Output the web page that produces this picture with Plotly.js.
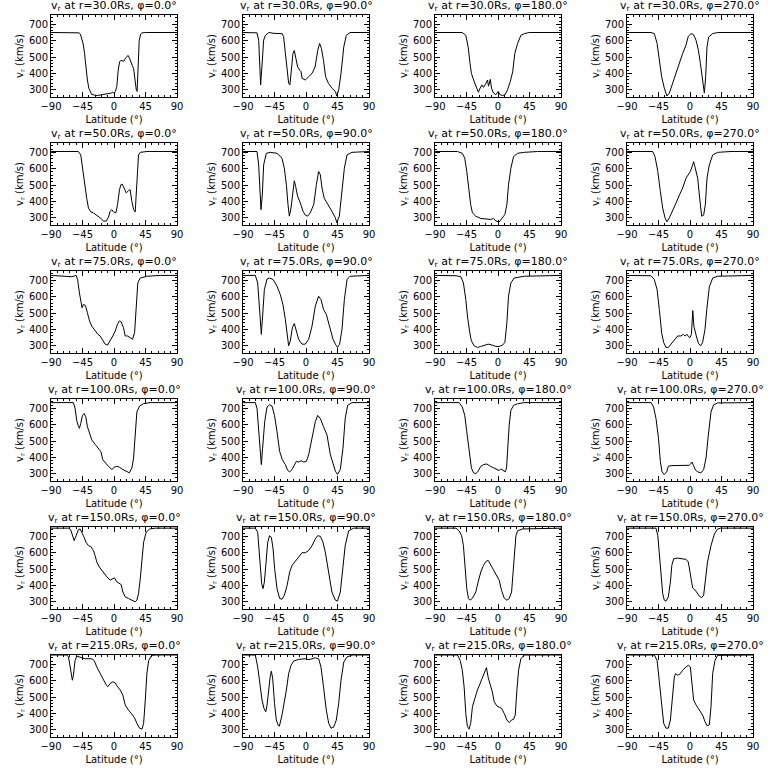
<!DOCTYPE html>
<html><head><meta charset="utf-8">
<script src="https://cdn.plot.ly/plotly-3.0.1.min.js"></script>
<style>html,body{margin:0;padding:0;background:#fff}</style>
</head><body><div id="chart" style="width:768px;height:768px"></div>
<script>
// ---- labels ----
const radii = ["30.0", "50.0", "75.0", "100.0", "150.0", "215.0"];
const phis = ["0.0", "90.0", "180.0", "270.0"];
const xTickVals = [-90, -45, 0, 45, 90];
const yTickVals = [300, 400, 500, 600, 700];

// ---- r = 30 Rs ----
const lat_r30_p0 = [-90,-60,-50,-48,-46,-44,-42,-40,-38,-36,-34,-32,-28,-24,-20,-16,-12,-8,-4,-2,0,2,4,6,8,10,12,14,16,18,20,22,24,26,28,30,32,33,34,36,38,40,45,60,90];
const v_r30_p0 = [650,650,648,640,615,580,520,430,360,310,285,272,268,265,268,270,272,275,280,285,280,290,320,420,470,480,478,475,490,500,510,495,465,450,430,350,295,290,420,600,640,648,650,650,650];
const lat_r30_p90 = [-90,-72,-70,-67.6,-66,-64.8,-63,-60.5,-58,-53,-46,-40,-34,-32,-29.5,-27,-24.8,-23,-21.4,-18.6,-16.7,-14.8,-12,-9,-7,-5.7,-1,3.8,8.6,13,16.7,19.5,22,25,28,32,37,42,44,46.7,50,54,57.6,63,90];
const v_r30_p90 = [650,650,648,603,380,330,440,603,633,650,645,645,643,625,522,420,340,330,400,522,540,500,440,420,410,370,360,380,400,440,540,583,553,480,380,340,310,290,262,300,400,563,633,650,650];
const lat_r30_p180 = [-90,-51,-46,-42.7,-40,-38,-34,-30,-28,-25.5,-23,-20.8,-18.4,-15,-13.6,-11,-9.3,-6.4,-3,0.3,3,6.5,10,13.6,17.5,21,24,28,32.7,37.5,44.7,90];
const v_r30_p180 = [650,650,633,563,462,400,350,300,285,310,330,315,330,360,322,364,310,280,270,290,270,265,270,300,350,410,522,583,633,643,650,650];
const lat_r30_p270 = [-90,-55.7,-51,-47,-43.8,-40.5,-36.7,-33,-29.5,-24.8,-20,-15,-10.5,-5.7,-2.4,1.4,5,8.6,12,14.8,16.7,18.6,20.5,22.4,24.3,26.7,32.4,39.5,90];
const v_r30_p270 = [650,650,643,583,482,380,310,262,280,340,410,472,522,573,627,643,637,603,542,462,400,330,280,380,563,623,643,650,650];

// ---- r = 50 Rs ----
const lat_r50_p0 = [-90,-51,-47.5,-44.6,-41.3,-39,-36.5,-33,-29.4,-24.6,-19.8,-15,-11,-7.9,-5.5,-3,-0.7,2.7,5,7.9,9.8,11.7,14.6,17.5,20.8,23,25.6,28,30.3,32.7,35,37.5,47,90];
const v_r50_p0 = [705,705,684,583,502,420,360,336,330,316,300,280,280,304,340,350,336,330,380,472,502,506,482,452,466,472,400,350,336,542,684,700,705,705];
const lat_r50_p90 = [-90,-70,-67.6,-65.7,-64.3,-62.4,-60.5,-56.7,-51,-41.4,-34.3,-31,-28,-25.7,-23.8,-21.4,-18.6,-16.7,-14.8,-12,-8,-4.3,-1,2.4,6,11,14.8,18,20.5,22.9,26,32,37,42,44,47.6,51,54.8,58.6,65.7,90];
const v_r50_p90 = [705,705,623,441,350,441,623,694,700,694,664,603,502,380,310,360,482,526,492,432,390,340,316,310,330,380,502,583,563,482,420,380,340,300,270,310,441,603,684,700,705];
const lat_r50_p180 = [-90,-58,-51,-47.5,-44.6,-41.3,-39,-36.5,-31.7,-24.6,-15,-10.2,-6.4,-3,1.7,6.5,9.8,12.7,15,18.4,22.2,28,37.5,56.6,90];
const v_r50_p180 = [705,705,694,664,583,462,380,330,310,296,290,290,296,280,275,300,320,380,502,603,674,694,700,705,705];
const lat_r50_p270 = [-90,-53.3,-50,-46,-42.4,-39,-35.7,-33,-29.5,-24.8,-20,-15,-10.5,-5.7,-2.4,0.5,3.8,5.2,7,11,13.8,16.7,19.5,21.9,24.3,27.6,32.4,39.5,58.6,90];
const v_r50_p270 = [705,705,674,583,462,360,300,276,300,340,390,440,482,542,563,583,623,643,613,542,420,310,316,380,542,623,684,700,705,705];

// ---- r = 75 Rs ----
const lat_r75_p0 = [-90,-70,-60,-54,-52,-49.4,-47,-45.6,-43.7,-40.8,-38,-35,-31.7,-27,-23,-19.8,-16,-12.6,-9.3,-5.5,-1.7,1.7,5,7.9,10.3,13.6,16,19.3,23,26.5,29.4,31.8,34,37.5,47,66,90];
const v_r75_p0 = [730,725,722,730,705,623,553,532,553,546,502,452,420,390,370,360,330,310,304,330,360,390,432,452,446,410,360,360,350,340,380,542,684,714,725,730,730];
const lat_r75_p90 = [-90,-72.4,-69,-67,-65,-63.8,-62,-59.5,-55.7,-52,-47,-41.4,-36.7,-33,-29.5,-27,-24.8,-22.4,-19.5,-16.7,-13.8,-10.5,-5.7,-1,3.8,8.6,13.3,18,21.4,25,29,33.8,38.6,42,45,48,51.4,54.8,58.6,63,90];
const v_r75_p90 = [730,730,684,563,420,370,482,643,708,714,705,664,613,553,462,370,300,330,410,436,390,340,310,310,340,420,542,603,583,522,492,420,340,310,290,310,400,583,705,725,730];
const lat_r75_p180 = [-90,-60,-53,-49.4,-46,-43.7,-40.3,-38,-34,-29.4,-24.6,-19.8,-14,-7.9,-3,1.7,6.5,9.8,12.7,15,18.4,23,37.5,90];
const v_r75_p180 = [730,728,722,684,583,482,380,330,300,290,296,304,310,304,296,296,304,320,441,603,684,714,725,730];
const lat_r75_p270 = [-90,-55.7,-51,-47,-43.8,-40.5,-37.6,-34.3,-31,-27,-22.4,-17.6,-13,-9.5,-7,-4.3,-2,0,2,4,5.5,7,9,12,15,18,21.4,24,27.6,32.4,39.5,90];
const v_r75_p270 = [730,728,705,643,522,380,320,290,290,310,340,360,360,370,360,370,355,350,370,515,420,385,360,316,300,320,400,522,660,714,725,730];

// ---- r = 100 Rs ----
const lat_r100_p0 = [-90,-58,-55.6,-53,-50.8,-49.4,-47.5,-45,-42.7,-40.3,-38,-35,-31.7,-27,-22,-18.8,-16,-12.6,-8,-3,0.3,4,7.9,12.7,18.4,22,25.6,28,30.3,32.7,36.5,42,51.6,90];
const v_r100_p0 = [735,735,700,620,590,578,608,657,668,648,588,548,507,480,456,436,386,366,346,326,340,346,340,326,312,306,336,396,537,678,714,728,735,735];
const lat_r100_p90 = [-90,-72.4,-70,-67.6,-65,-63.8,-62,-59,-55.7,-52,-48.6,-45,-41.4,-37.6,-33.8,-29.5,-26,-23.3,-20,-16.7,-13.8,-10.5,-7,-3.3,0.5,3.8,8.6,13.3,16.7,20.5,25,30,34.8,38.6,42,45,49,52.8,56,59.5,65.7,90];
const v_r100_p90 = [735,735,700,557,396,356,456,618,708,722,714,657,557,436,386,356,320,312,326,356,376,372,380,372,376,416,517,618,657,638,588,537,416,356,316,296,326,456,638,718,735,735];
const lat_r100_p180 = [-90,-55.6,-51,-47.5,-44.6,-41.3,-38,-35,-31.7,-28.4,-24.6,-20.8,-16,-11,-6.4,-1.7,1.7,4,7.4,10.3,12.2,13.6,16,18.4,22.2,28,37.5,90];
const v_r100_p180 = [735,735,708,657,557,436,336,306,300,316,346,356,360,346,336,326,320,330,320,312,336,436,598,688,718,728,735,735];
const lat_r100_p270 = [-90,-55.7,-52,-48.6,-45,-42.4,-40,-36.7,-33.3,-31,-27,-17.6,-5.7,-1,1,3,5,8,11,15.7,19.5,22.9,26.2,30,33.8,39.5,90];
const v_r100_p270 = [735,735,708,638,517,376,312,296,312,346,350,350,350,352,360,372,350,322,312,306,326,396,537,678,722,733,735];

// ---- r = 150 Rs ----
const lat_r150_p0 = [-90,-65,-61.8,-59,-57,-54,-51,-48.4,-46,-42.7,-40,-36.5,-33,-29.4,-27,-24.6,-20.8,-17.4,-14,-10.2,-5.5,-1.7,0.7,4,7.9,10.3,12.7,16,20.8,25.6,30.3,32.7,35,37.5,40,42.3,46,51,59,90];
const v_r150_p0 = [750,750,740,704,674,704,740,745,725,694,664,643,637,613,583,543,512,492,472,452,432,442,446,422,412,405,360,330,320,310,300,310,350,441,563,664,725,745,750,750];
const lat_r150_p90 = [-90,-72.4,-69,-67,-65,-63.3,-61.4,-59.5,-57,-54.7,-52,-49.5,-47,-44.8,-41.4,-37.6,-34.3,-31,-27,-23.3,-20,-15,-10.5,-5.7,-1,3.8,8.6,13.3,16.7,20.5,24.3,27.6,32.4,37,42,45,49,52.8,56,61,68,90];
const v_r150_p90 = [750,750,725,623,502,410,380,420,543,664,704,694,623,502,380,320,316,340,400,482,522,546,573,600,600,613,643,684,704,700,664,603,482,360,310,304,360,502,643,734,750,750];
const lat_r150_p180 = [-90,-60,-55.6,-52,-49.4,-47,-44.6,-42.2,-40,-36.5,-31.7,-28.4,-24.6,-20.8,-17.4,-14,-10.2,-6.4,-1.7,1.7,5,8.9,12.7,16,19.4,21.3,23.2,25.6,28,35,90];
const v_r150_p180 = [750,750,734,704,643,502,380,320,310,322,360,420,482,522,546,553,522,492,462,432,370,322,310,320,360,462,603,704,734,745,750];
const lat_r150_p270 = [-90,-48.6,-46,-43.8,-41.4,-39,-36.7,-34.3,-31,-28,-26,-23.3,-17.6,-10.5,-5.7,-2.4,0.5,2.4,3.8,8.6,13,16.7,19.5,21.4,25,30,34.8,39.5,44,90];
const v_r150_p270 = [750,750,704,583,441,350,310,304,330,420,522,563,567,563,559,543,482,420,385,365,336,325,340,420,543,643,714,745,750,750];

// ---- r = 215 Rs ----
const lat_r215_p0 = [-90,-67.6,-65,-62.8,-60.9,-59.5,-58,-55.6,-53,-48.4,-41.3,-31.7,-28.4,-24.6,-20.8,-17.4,-14,-11,-8.8,-5.5,-1.7,1.7,5,8.9,12.7,16,20.8,25.6,29,32.7,36.5,40,42.3,44.7,47,49.5,54,61,90];
const v_r215_p0 = [757,757,745,684,623,603,633,724,750,745,734,734,724,684,654,623,593,573,563,583,593,587,563,543,512,452,420,390,376,340,310,304,340,482,643,724,755,757,757];
const lat_r215_p90 = [-90,-72.4,-69,-66,-62.8,-60,-57.5,-55.7,-53.3,-51,-49.5,-47.5,-45,-42.4,-40,-38,-34.3,-31,-28,-24.8,-21.4,-17.6,-10.5,-1,3.8,8.6,13.3,18,21.4,25,29,32.4,35.7,39.5,43.3,46.7,50,54,58.6,65.7,90];
const v_r215_p90 = [757,757,684,583,482,430,410,450,560,630,658,610,462,360,330,322,390,462,543,643,694,720,730,734,728,734,740,734,684,563,420,340,310,316,360,462,603,714,745,757,757];
const lat_r215_p180 = [-90,-58,-54,-51,-48.4,-46,-43.7,-41.3,-39,-36.5,-33,-29.4,-24.6,-20.8,-18.4,-16.5,-14,-11,-8,-5.5,-1.7,1.7,5,8.9,12.7,16,19.4,22.2,24.6,27,29.4,32.7,37.5,90];
const v_r215_p180 = [757,757,724,664,563,400,320,304,340,441,492,543,593,630,660,680,620,580,530,472,446,438,432,400,360,344,360,364,390,543,664,734,757,757];
const lat_r215_p270 = [-90,-51,-47,-43.8,-40.5,-37.6,-34.3,-31,-28,-26,-24,-22.4,-20.5,-17.6,-13.8,-10.5,-5.7,-2.4,0.5,2.4,5.2,8.6,13.3,18,21.4,24.3,27.6,30,32.4,35.7,39.5,90];
const v_r215_p270 = [757,757,724,603,441,340,310,310,360,441,543,623,643,633,643,664,684,694,684,603,482,452,420,390,350,325,330,441,643,724,755,757];

const panelData = [
  [lat_r30_p0, v_r30_p0], [lat_r30_p90, v_r30_p90], [lat_r30_p180, v_r30_p180], [lat_r30_p270, v_r30_p270],
  [lat_r50_p0, v_r50_p0], [lat_r50_p90, v_r50_p90], [lat_r50_p180, v_r50_p180], [lat_r50_p270, v_r50_p270],
  [lat_r75_p0, v_r75_p0], [lat_r75_p90, v_r75_p90], [lat_r75_p180, v_r75_p180], [lat_r75_p270, v_r75_p270],
  [lat_r100_p0, v_r100_p0], [lat_r100_p90, v_r100_p90], [lat_r100_p180, v_r100_p180], [lat_r100_p270, v_r100_p270],
  [lat_r150_p0, v_r150_p0], [lat_r150_p90, v_r150_p90], [lat_r150_p180, v_r150_p180], [lat_r150_p270, v_r150_p270],
  [lat_r215_p0, v_r215_p0], [lat_r215_p90, v_r215_p90], [lat_r215_p180, v_r215_p180], [lat_r215_p270, v_r215_p270]
];

// ---- layout geometry (pixels) ----
const W = 768, H = 768;
const colX = [51, 243, 435, 627];
const rowY = [15, 143, 271, 399, 527, 655];
const PW = 126, PH = 82;
const FONT = 'DejaVu Sans, sans-serif';

const traces = [];
const layout = {
  width: W, height: H,
  margin: {l: 0, r: 0, t: 0, b: 0},
  paper_bgcolor: '#fff', plot_bgcolor: '#fff',
  showlegend: false,
  font: {family: FONT, size: 10, color: '#000'},
  annotations: []
};

for (let r = 0; r < 6; r++) {
  for (let c = 0; c < 4; c++) {
    const i = r * 4 + c;
    const sfx = i === 0 ? '' : String(i + 1);
    const d = panelData[i];
    traces.push({
      type: 'scatter', mode: 'lines', x: d[0], y: d[1],
      xaxis: 'x' + sfx, yaxis: 'y' + sfx,
      line: {color: '#000', width: 1}, hoverinfo: 'skip'
    });
    const common = {
      showline: true, linecolor: '#000', linewidth: 1, mirror: 'ticks',
      ticks: 'inside', ticklen: 5, tickwidth: 1, tickcolor: '#000',
      showgrid: false, zeroline: false, fixedrange: true,
      tickfont: {family: FONT, size: 10, color: '#000'}
    };
    layout['xaxis' + sfx] = Object.assign({}, common, {
      domain: [colX[c] / W, (colX[c] + PW) / W],
      anchor: 'y' + sfx,
      range: [-90, 90],
      tickmode: 'array', tickvals: xTickVals,
      minor: {ticks: 'inside', ticklen: 2, tickcolor: '#000', tickvals: [-81,-72,-63,-54,-36,-27,-18,-9,9,18,27,36,54,63,72,81]},
      title: {text: 'Latitude (°)', font: {family: FONT, size: 10, color: '#000'}, standoff: 4}
    });
    layout['yaxis' + sfx] = Object.assign({}, common, {
      domain: [1 - (rowY[r] + PH) / H, 1 - rowY[r] / H],
      anchor: 'x' + sfx,
      range: [256, 757],
      tickmode: 'array', tickvals: yTickVals,
      minor: {ticks: 'inside', ticklen: 2, tickcolor: '#000', dtick: 20, tick0: 0},
      title: {text: 'v<sub>r</sub> (km/s)', font: {family: FONT, size: 10, color: '#000'}, standoff: 3}
    });
    layout.annotations.push({
      xref: 'paper', yref: 'paper',
      x: (colX[c] + PW / 2) / W, y: 1 - (rowY[r] - 9) / H,
      xanchor: 'center', yanchor: 'middle', showarrow: false,
      text: 'v<sub>r</sub> at r=' + radii[r] + 'Rs, φ=' + phis[c] + '°',
      font: {family: FONT, size: 11, color: '#000'}
    });
  }
}

Plotly.newPlot('chart', traces, layout, {staticPlot: true, displayModeBar: false});
</script>
</body></html>
